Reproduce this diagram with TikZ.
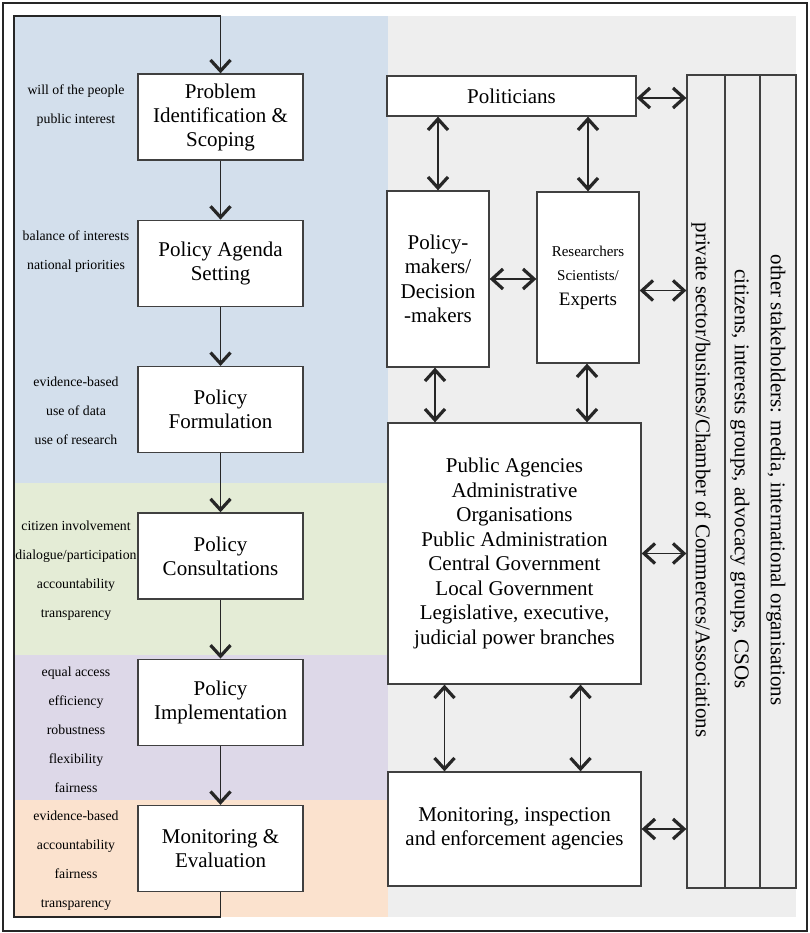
\documentclass[tikz,border=0pt]{standalone}
\usepackage{fontspec}
\setmainfont{Liberation Serif}
\usetikzlibrary{positioning, arrows.meta}

\definecolor{bandblue}{HTML}{D3DFEC}
\definecolor{bandgreen}{HTML}{E4ECD6}
\definecolor{bandpurple}{HTML}{DDD8E8}
\definecolor{bandorange}{HTML}{FBE2CE}
\definecolor{panelgrey}{HTML}{EEEEEE}

\tikzset{
	chevron/.tip={Straight Barb[length=11pt, width=20pt, line width=3.2pt]}
}

\begin{document}
\begin{tikzpicture}[
	x=1pt, y=-1pt,
	stage/.style={draw=black!75, line width=1.3pt, fill=white, align=center,
		minimum width=165pt, minimum height=86pt, inner sep=2pt,
		font=\fontsize{21}{24}\selectfont},
	actor/.style={draw=black!75, line width=1.3pt, fill=white, align=center,
		inner sep=2pt, font=\fontsize{21}{24.5}\selectfont},
	crit/.style={align=center, font=\fontsize{13.8}{29}\selectfont},
	column/.style={draw=black!75, line width=1.3pt, minimum height=813pt, inner sep=0pt},
	group/.style={rotate=-90, font=\fontsize{21}{24}\selectfont},
	flow/.style={-chevron, line width=1.3pt, black!85},
	link/.style={chevron-chevron, line width=1.3pt, black!85}
	]
	\useasboundingbox (0,0) rectangle (810,933);

	% Backgrounds
	\fill[bandblue] (14,16) rectangle (388,483);
	\fill[bandgreen] (14,483) rectangle (388,655);
	\fill[bandpurple] (14,655) rectangle (388,800);
	\fill[bandorange] (14,800) rectangle (388,917);
	\fill[panelgrey] (388,16) rectangle (796,917);
	\draw[line width=2pt, black!85] (3,3) rectangle (807,931);

	% Policy cycle
	\node[stage] (prob) at (220.5,117) {Problem\\Identification \&\\Scoping};
	\node[stage, below=59pt of prob] (agenda) {Policy Agenda\\Setting};
	\node[stage, below=59pt of agenda] (form) {Policy\\Formulation};
	\node[stage, below=59pt of form] (cons) {Policy\\Consultations};
	\node[stage, below=59pt of cons] (impl) {Policy\\Implementation};
	\node[stage, below=59pt of impl] (eval) {Monitoring \&\\Evaluation};

	\draw[flow] (prob) -- (agenda);
	\draw[flow] (agenda) -- (form);
	\draw[flow] (form) -- (cons);
	\draw[flow] (cons) -- (impl);
	\draw[flow] (impl) -- (eval);

	% Feedback loop
	\coordinate (loopBL) at (14,917);
	\coordinate (loopTL) at (14,16);
	\draw[flow] (eval.south) -- (eval.south |- loopBL) -- (loopBL) -- (loopTL)
		-- (loopTL -| prob.north) -- (prob.north);

	% Values per stage
	\node[crit] (c1) at (76,106) {will of the people\\public interest};
	\node[crit] (c2) at (76,251.5) {balance of interests\\national priorities};
	\node[crit] (c3) at (76,411) {evidence-based\\use of data\\use of research};
	\node[crit] (c4) at (76,570.5) {citizen involvement\\dialogue/participation\\accountability\\transparency};
	\node[crit] (c5) at (76,730) {equal access\\efficiency\\robustness\\flexibility\\fairness};
	\node[crit] (c6) at (76,860.5) {evidence-based\\accountability\\fairness\\transparency};

	% Actors
	\node[actor, minimum width=249pt, minimum height=40pt] (pol) at (511.5,96) {Politicians};
	\node[actor, minimum width=102pt, minimum height=176pt] (pm) at (438,279)
		{Policy-\\makers/\\Decision\\-makers};
	\node[actor, minimum width=102pt, minimum height=171pt] (res) at (588,277.5)
		{{\fontsize{15}{20}\selectfont Researchers}\\{\fontsize{15}{20}\selectfont Scientists/}\\{\fontsize{19}{23}\selectfont Experts}};
	\node[actor, minimum width=253pt, minimum height=261pt] (pa) at (514.5,553.5)
		{Public Agencies\\Administrative\\Organisations\\Public Administration\\Central Government\\Local Government\\Legislative, executive,\\judicial power branches};
	\node[actor, minimum width=253pt, minimum height=114pt] (mon) at (514.5,829)
		{Monitoring, inspection\\and enforcement agencies};

	% Stakeholder columns
	\node[column, minimum width=38pt] (colA) at (706,481.5) {};
	\node[column, minimum width=35pt] (colB) at (742.5,481.5) {};
	\node[column, minimum width=36pt] (colC) at (778,481.5) {};
	\node[group] (lblA) at (701,480) {private sector/business/Chamber of Commerces/Associations};
	\node[group] (lblB) at (740,479) {citizens, interests groups, advocacy groups, CSOs};
	\node[group] (lblC) at (776,480) {other stakeholders: media, international organisations};

	% Arrows
	\draw[link] ([yshift=-2pt]pol.east) -- ([yshift=-2pt]pol.east -| colA.west);
	\draw[link] (pol.south -| pm.north) -- (pm.north);
	\draw[link] (pol.south -| res.north) -- (res.north);
	\draw[link] (pm.east) -- (pm.east -| res.west);
	\draw[link] ([yshift=-13pt]res.east) -- ([yshift=-13pt]res.east -| colA.west);
	\draw[link] ([xshift=-3pt]pm.south) -- ([xshift=-3pt]pm.south |- pa.north);
	\draw[link] ([xshift=-1pt]res.south) -- ([xshift=-1pt]res.south |- pa.north);
	\draw[link] (pa.east) -- (pa.east -| colA.west);
	\draw[link] ([xshift=-70pt]pa.south) -- ([xshift=-70pt]mon.north);
	\draw[link] ([xshift=66pt]pa.south) -- ([xshift=66pt]mon.north);
	\draw[link] (mon.east) -- (mon.east -| colA.west);

\end{tikzpicture}
\end{document}
